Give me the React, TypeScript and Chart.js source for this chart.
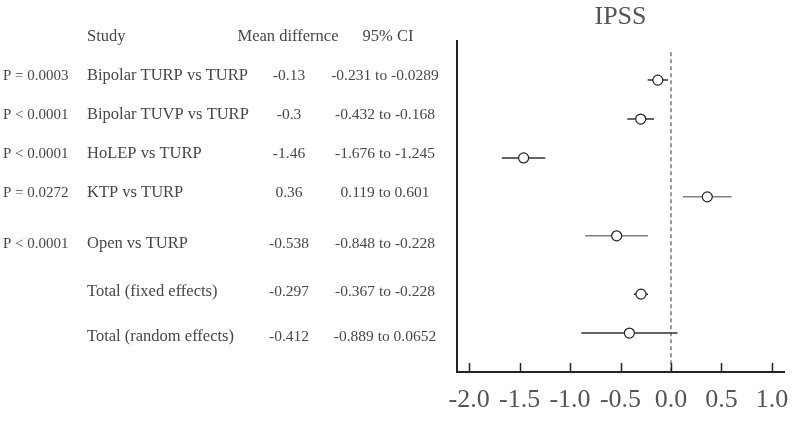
import React, { useEffect, useRef } from 'react';
import { Chart, registerables } from 'chart.js';

Chart.register(...registerables);

const studies = [
  'Bipolar TURP vs TURP',
  'Bipolar TUVP vs TURP',
  'HoLEP vs TURP',
  'KTP vs TURP',
  'Open vs TURP',
  'Total (fixed effects)',
  'Total (random effects)',
];
const pValues = ['P = 0.0003', 'P < 0.0001', 'P < 0.0001', 'P = 0.0272', 'P < 0.0001', '', ''];
const meanDiff = [-0.13, -0.3, -1.46, 0.36, -0.538, -0.297, -0.412];
const ciLow = [-0.231, -0.432, -1.676, 0.119, -0.848, -0.367, -0.889];
const ciHigh = [-0.0289, -0.168, -1.245, 0.601, -0.228, -0.228, 0.0652];
const rowPos = [1, 2, 3, 4, 5, 6.5, 7.5];
const xTicks = [-2.0, -1.5, -1.0, -0.5, 0.0, 0.5, 1.0];
const headers = ['Study', 'Mean differnce', '95% CI'];
const chartTitle = 'IPSS';

const FONT = "'Liberation Serif', 'DejaVu Serif', serif";
const lineColors = ['#333', '#333', '#333', '#808080', '#808080', '#333', '#333'];
const textRowY = [76, 115, 154, 193, 244, 292, 337];

const tablePlugin = {
  id: 'forestTable',
  beforeDatasetsDraw(chart: any) {
    const { ctx, chartArea, scales } = chart;
    const x0 = scales.x.getPixelForValue(0);
    ctx.save();
    ctx.strokeStyle = '#777';
    ctx.lineWidth = 1.5;
    ctx.setLineDash([4, 3]);
    ctx.beginPath();
    ctx.moveTo(x0, chartArea.top + 11);
    ctx.lineTo(x0, chartArea.bottom);
    ctx.stroke();
    ctx.restore();
  },
  afterDraw(chart: any) {
    const { ctx, chartArea, scales } = chart;
    ctx.save();
    ctx.strokeStyle = '#222';
    ctx.lineWidth = 1.5;
    xTicks.forEach((v) => {
      const px = Math.round(scales.x.getPixelForValue(v)) + 0.5;
      ctx.beginPath();
      ctx.moveTo(px, chartArea.bottom);
      ctx.lineTo(px, chartArea.bottom - 9);
      ctx.stroke();
    });
    ctx.fillStyle = '#474747';
    ctx.textBaseline = 'middle';
    ctx.font = `16.5px ${FONT}`;
    ctx.textAlign = 'left';
    ctx.fillText(headers[0], 87, 37);
    ctx.textAlign = 'center';
    ctx.fillText(headers[1], 288, 37);
    ctx.fillText(headers[2], 388, 37);
    studies.forEach((s, i) => {
      const y = textRowY[i];
      ctx.textAlign = 'left';
      ctx.font = `15px ${FONT}`;
      if (pValues[i]) ctx.fillText(pValues[i], 3, y);
      ctx.font = `16.5px ${FONT}`;
      ctx.fillText(s, 87, y);
      ctx.textAlign = 'center';
      ctx.font = `15.5px ${FONT}`;
      ctx.fillText(String(meanDiff[i]), 289, y);
      ctx.fillText(`${ciLow[i]} to ${ciHigh[i]}`, 385, y);
    });
    ctx.restore();
  },
};

export default function App() {
  const ref = useRef<HTMLCanvasElement>(null);
  useEffect(() => {
    const ciSets = studies.map((s, i) => ({
      type: 'line' as const,
      label: s,
      data: [
        { x: ciLow[i], y: rowPos[i] },
        { x: ciHigh[i], y: rowPos[i] },
      ],
      borderColor: lineColors[i],
      borderWidth: 1.5,
      pointRadius: 0,
      showLine: true,
      fill: false,
      order: 1,
    }));
    const pointSet = {
      type: 'scatter' as const,
      label: 'Mean difference',
      data: meanDiff.map((m, i) => ({ x: m, y: rowPos[i] })),
      pointRadius: 5,
      pointBackgroundColor: '#fff',
      pointBorderColor: '#222',
      pointBorderWidth: 1.2,
      order: 0,
    };
    const chart = new Chart(ref.current!, {
      type: 'scatter',
      data: { datasets: [pointSet as any, ...(ciSets as any[])] },
      options: {
        animation: false,
        responsive: false,
        devicePixelRatio: 1,
        layout: { padding: { left: 457, right: 8, top: 0, bottom: 0 } },
        plugins: {
          legend: { display: false },
          tooltip: { enabled: false },
          title: {
            display: true,
            text: chartTitle,
            color: '#555',
            font: { family: FONT, size: 26, weight: 'normal' },
            padding: { top: 2, bottom: 8 },
          },
        },
        scales: {
          x: {
            type: 'linear',
            min: -2.12,
            max: 1.12,
            afterBuildTicks: (s: any) => {
              s.ticks = xTicks.map((v) => ({ value: v }));
            },
            afterFit: (s: any) => {
              s.height = 49;
              s.paddingLeft = 0;
              s.paddingRight = 0;
            },
            ticks: {
              callback: (v: any) => Number(v).toFixed(1),
              color: '#555',
              font: { family: FONT, size: 26 },
              padding: 13,
              maxRotation: 0,
              autoSkip: false,
            },
            grid: { display: false, drawTicks: false },
            border: { display: true, color: '#222', width: 2 },
          },
          y: {
            type: 'linear',
            reverse: true,
            min: 0,
            max: 8.5,
            afterFit: (s: any) => {
              s.width = 0;
              s.paddingTop = 0;
              s.paddingBottom = 0;
            },
            ticks: { display: false },
            grid: { display: false, drawTicks: false },
            border: { display: true, color: '#222', width: 2 },
          },
        },
      },
      plugins: [tablePlugin],
    });
    return () => chart.destroy();
  }, []);
  return (
    <div style={{ position: 'fixed', left: 0, top: 0, width: 792, height: 421, background: '#fff' }}>
      <canvas ref={ref} width={792} height={421} style={{ display: 'block', width: 792, height: 421 }} />
    </div>
  );
}
